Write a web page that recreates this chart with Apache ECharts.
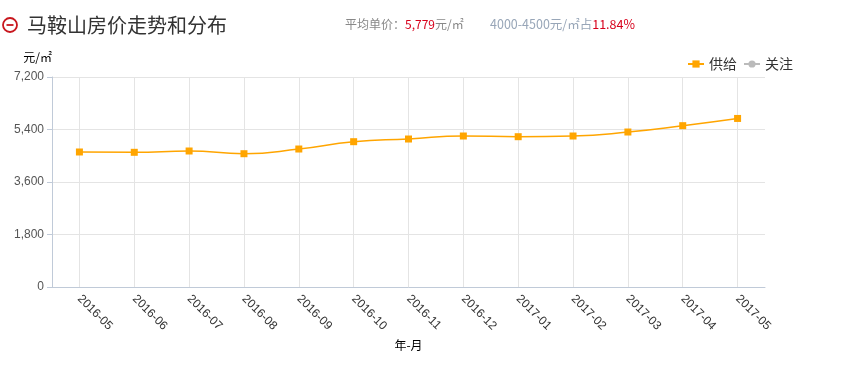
<!DOCTYPE html>
<html><head><meta charset="utf-8">
<script src="https://cdn.jsdelivr.net/npm/echarts@6/dist/echarts.min.js"></script>
<style>html,body{margin:0;padding:0;background:#fff}#c{width:864px;height:365px}</style>
</head><body><div id="c"></div>
<script>
var months = ['2016-05','2016-06','2016-07','2016-08','2016-09','2016-10','2016-11','2016-12','2017-01','2017-02','2017-03','2017-04','2017-05'];
var supply = [4629,4618,4663,4570,4731,4982,5074,5177,5153,5177,5314,5531,5779];
var attention = [];
var yTicks = [0,1800,3600,5400,7200];
var titleText = '马鞍山房价走势和分布';
var avgPrice = '5,779';
var rangeLabel = '4000-4500元/㎡占';
var rangePct = '11.84%';

var chart = echarts.init(document.getElementById('c'), null, {renderer:'canvas'});
var font = '"Microsoft YaHei","Noto Sans CJK SC",sans-serif';
var latin = '"Liberation Sans",Arial,"Noto Sans CJK SC",sans-serif';
chart.setOption({
  animation:false,
  textStyle:{fontFamily:font},
  graphic:[
    {type:'circle', shape:{cx:10,cy:25,r:7}, style:{fill:'none',stroke:'#c8161d',lineWidth:1.8}},
    {type:'line', shape:{x1:6.5,y1:25,x2:13.5,y2:25}, style:{stroke:'#c8161d',lineWidth:1.8}},
    {type:'text', left:27, top:15, style:{text:titleText, font:'20px '+font, fill:'#333'}},
    {type:'text', left:345, top:18, style:{
      text:'{a|平均单价：}{r|'+avgPrice+'}{a|元/㎡}',
      rich:{a:{fill:'#888',font:'12px '+font},r:{fill:'#d7001b',font:'12px '+font}}}},
    {type:'text', left:490, top:18, style:{
      text:'{b|'+rangeLabel+'}{r|'+rangePct+'}',
      rich:{b:{fill:'#98a6b8',font:'12.5px '+font},r:{fill:'#d7001b',font:'12.5px '+font}}}}
  ],
  legend:{
    right:66, top:52, itemWidth:16, itemHeight:9, itemGap:6,
    textStyle:{fontSize:14,color:'#333'},
    data:['供给','关注']
  },
  grid:{left:52, right:99, top:77, bottom:78, containLabel:false},
  xAxis:{
    type:'category', data:months, boundaryGap:true,
    name:'年-月', nameLocation:'middle', nameGap:50,
    nameTextStyle:{color:'#000',fontSize:12},
    axisLine:{lineStyle:{color:'#c0cad8'}},
    axisTick:{alignWithLabel:true, lineStyle:{color:'#c0cad8'}},
    axisLabel:{rotate:-45, color:'#333', fontSize:12, margin:10, interval:0, fontFamily:latin},
    splitLine:{show:true, alignWithLabel:true, lineStyle:{color:'#e4e4e4'}}
  },
  yAxis:{
    type:'value', min:0, max:7200, interval:1800,
    name:'元/㎡', nameLocation:'end', nameGap:14,
    nameTextStyle:{color:'#000',fontSize:12, align:'right'},
    axisLine:{show:true,lineStyle:{color:'#c0cad8'}},
    axisTick:{show:true,lineStyle:{color:'#c0cad8'}},
    axisLabel:{color:'#555',fontSize:12, fontFamily:latin, formatter:function(v){return v.toLocaleString('en-US');}},
    splitLine:{lineStyle:{color:'#e4e4e4'}}
  },
  series:[
    {name:'供给', type:'line', data:supply, smooth:true, symbol:'rect', symbolSize:7,
     itemStyle:{color:'#ffa500'}, lineStyle:{color:'#ffa500',width:1.5}},
    {name:'关注', type:'line', data:attention, symbol:'circle', symbolSize:7,
     itemStyle:{color:'#bbbbbb'}, lineStyle:{color:'#bbbbbb'}}
  ]
});
</script></body></html>
